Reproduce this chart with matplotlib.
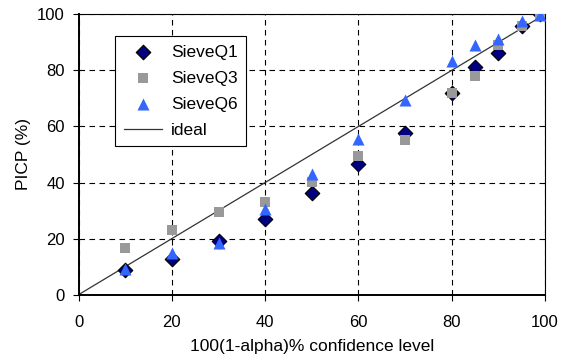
import matplotlib
matplotlib.use('Agg')
import matplotlib.pyplot as plt

conf_levels = [10, 20, 30, 40, 50, 60, 70, 80, 85, 90, 95, 99]
sieve_q1 = [8.8, 12.7, 19.0, 27.0, 36.2, 46.7, 57.7, 72.0, 81.2, 86.2, 96.0, 100.0]
sieve_q3 = [16.7, 23.1, 29.6, 33.0, 40.1, 49.4, 55.2, 72.0, 78.1, 89.0, 95.7, 100.0]
sieve_q6 = [9.2, 15.0, 18.3, 30.6, 43.1, 55.6, 69.3, 83.3, 89.2, 91.3, 97.6, 99.6]
ideal = [0, 100]

plt.rcParams.update({'font.family': ['Liberation Sans', 'DejaVu Sans'], 'font.size': 12})

fig = plt.figure(figsize=(5.7, 3.58), dpi=100)
ax = fig.add_axes([0.138, 0.177, 0.818, 0.783])

ax.scatter(conf_levels, sieve_q1, marker='D', s=55, color='#000080',
           edgecolors='black', linewidths=0.8, label='SieveQ1', zorder=3)
ax.scatter(conf_levels, sieve_q3, marker='s', s=45, color='#999999',
           linewidths=0, label='SieveQ3', zorder=3)
ax.scatter(conf_levels, sieve_q6, marker='^', s=75, color='#3366ff',
           linewidths=0, label='SieveQ6', zorder=3)
ax.plot(ideal, ideal, color='#333333', linewidth=0.9, label='ideal', zorder=2)

ax.set_xlim(0, 100)
ax.set_ylim(0, 100)
ax.set_xticks(range(0, 101, 20))
ax.set_yticks(range(0, 101, 20))
ax.grid(True, color='black', linestyle=(0, (5, 4)), linewidth=0.8)
ax.set_axisbelow(True)
ax.tick_params(direction='out', length=4, width=0.8, colors='black')
ax.tick_params(axis='x', pad=11)
ax.tick_params(axis='y', pad=6)
for side in ['top', 'right']:
    ax.spines[side].set_linewidth(0.8)
for side in ['left', 'bottom']:
    ax.spines[side].set_linewidth(1.4)

ax.set_xlabel('100(1-alpha)% confidence level', fontsize=12.5, labelpad=6)
ax.set_ylabel('PICP (%)', fontsize=12.5, labelpad=4)

leg = ax.legend(loc='upper left', bbox_to_anchor=(0.079, 0.922), fancybox=False,
                edgecolor='black', framealpha=1, borderpad=0.5, labelspacing=0.62,
                handlelength=2.2, handletextpad=0.5, borderaxespad=0,
                scatterpoints=1, fontsize=12.5)
leg.get_frame().set_linewidth(0.8)

fig.savefig('out.png', dpi=100)
